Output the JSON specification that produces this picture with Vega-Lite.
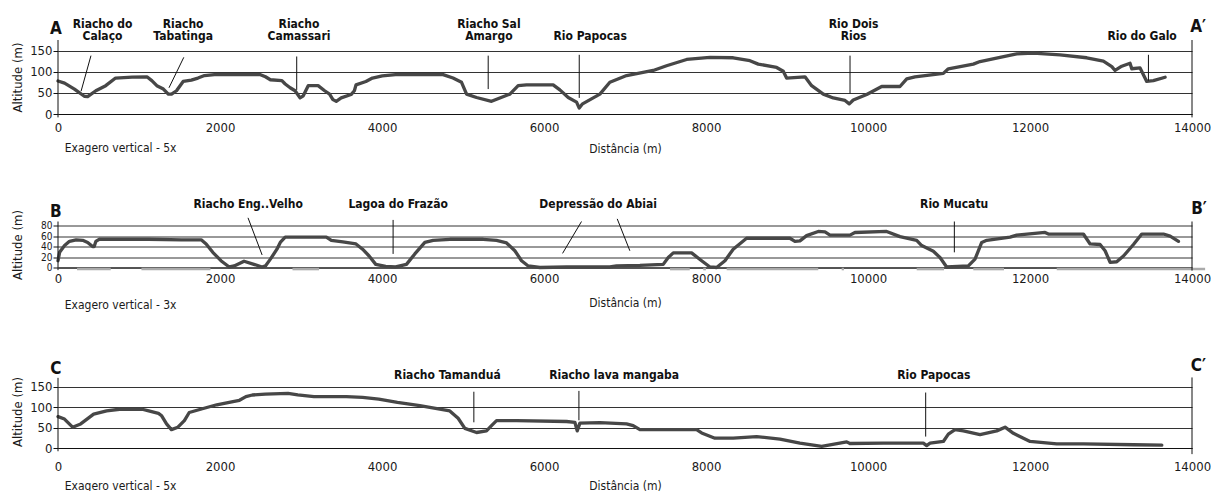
{
  "$schema": "https://vega.github.io/schema/vega-lite/v6.json",
  "padding": {"left": 11, "top": 17, "right": 5, "bottom": 0},
  "background": "white",
  "bounds": "flush",
  "spacing": 107.5,
  "config": {
    "font": "Liberation Sans Narrow, DejaVu Sans Condensed, Arial Narrow, sans-serif",
    "view": {"stroke": null},
    "axis": {
      "labelFontSize": 13, "labelColor": "#1a1a1a", "titleFontSize": 13, "titleFontWeight": "normal",
      "titleColor": "#1a1a1a", "gridColor": "#333333", "gridOpacity": 1, "gridWidth": 1,
      "domainColor": "#111111", "tickColor": "#111111", "labelOverlap": false
    },
    "axisX": {"format": "d", "labelFlush": false, "ticks": false, "grid": false, "domain": true, "titleFontSize": 12},
    "axisY": {"format": "d", "grid": true, "domain": false, "tickSize": 5, "labelPadding": 1, "titleX": -34},
    "text": {"color": "#111111"}
  },
  "datasets": {
    "a": [
      {"d":0,"alt":78},{"d":81,"alt":73},{"d":203,"alt":59},{"d":325,"alt":42},{"d":366,"alt":41},{"d":467,"alt":55},{"d":589,"alt":67},{"d":711,"alt":85},{"d":915,"alt":87},{"d":1098,"alt":88},{"d":1158,"alt":79},{"d":1220,"alt":67},{"d":1301,"alt":59},{"d":1362,"alt":47},{"d":1402,"alt":47},{"d":1463,"alt":55},{"d":1545,"alt":77},{"d":1646,"alt":80},{"d":1728,"alt":85},{"d":1809,"alt":91},{"d":1931,"alt":93},{"d":2134,"alt":93},{"d":2337,"alt":93},{"d":2500,"alt":93},{"d":2561,"alt":88},{"d":2622,"alt":81},{"d":2764,"alt":79},{"d":2805,"alt":71},{"d":2866,"alt":62},{"d":2927,"alt":55},{"d":2988,"alt":38},{"d":3028,"alt":43},{"d":3089,"alt":67},{"d":3211,"alt":67},{"d":3292,"alt":55},{"d":3353,"alt":47},{"d":3394,"alt":34},{"d":3435,"alt":30},{"d":3496,"alt":38},{"d":3618,"alt":46},{"d":3659,"alt":55},{"d":3679,"alt":69},{"d":3801,"alt":77},{"d":3882,"alt":85},{"d":4004,"alt":90},{"d":4167,"alt":93},{"d":4754,"alt":93},{"d":4877,"alt":85},{"d":4982,"alt":75},{"d":5044,"alt":47},{"d":5167,"alt":39},{"d":5352,"alt":30},{"d":5455,"alt":38},{"d":5579,"alt":47},{"d":5681,"alt":67},{"d":5785,"alt":69},{"d":6113,"alt":69},{"d":6196,"alt":57},{"d":6299,"alt":39},{"d":6402,"alt":28},{"d":6435,"alt":14},{"d":6476,"alt":24},{"d":6690,"alt":47},{"d":6813,"alt":75},{"d":7020,"alt":91},{"d":7348,"alt":103},{"d":7513,"alt":114},{"d":7761,"alt":129},{"d":8049,"alt":134},{"d":8336,"alt":133},{"d":8542,"alt":126},{"d":8645,"alt":118},{"d":8872,"alt":110},{"d":8954,"alt":101},{"d":8995,"alt":85},{"d":9222,"alt":88},{"d":9304,"alt":67},{"d":9448,"alt":47},{"d":9571,"alt":38},{"d":9716,"alt":32},{"d":9769,"alt":24},{"d":9818,"alt":33},{"d":9984,"alt":46},{"d":10169,"alt":65},{"d":10395,"alt":65},{"d":10478,"alt":83},{"d":10580,"alt":88},{"d":10930,"alt":96},{"d":10992,"alt":107},{"d":11300,"alt":118},{"d":11383,"alt":124},{"d":11630,"alt":134},{"d":11836,"alt":142},{"d":12041,"alt":144},{"d":12371,"alt":140},{"d":12700,"alt":133},{"d":12906,"alt":125},{"d":13010,"alt":112},{"d":13050,"alt":103},{"d":13133,"alt":113},{"d":13235,"alt":120},{"d":13256,"alt":107},{"d":13359,"alt":109},{"d":13441,"alt":77},{"d":13523,"alt":79},{"d":13668,"alt":87}
    ],
    "aLab": [
      {"d":549,"l1":"Riacho do","l2":"Calaço"},{"d":1545,"l1":"Riacho","l2":"Tabatinga"},{"d":2975,"l1":"Riacho","l2":"Camassari"},{"d":5320,"l1":"Riacho Sal","l2":"Amargo"},{"d":6570,"l1":"","l2":"Rio Papocas"},{"d":9822,"l1":"Rio Dois","l2":"Rios"},{"d":13384,"l1":"","l2":"Rio do Galo"}
    ],
    "aPtr": [
      {"x1":407,"y1":138,"x2":285,"y2":54},{"x1":1553,"y1":134,"x2":1370,"y2":62},{"x1":2947,"y1":136,"x2":2947,"y2":57},{"x1":5311,"y1":138,"x2":5311,"y2":59},{"x1":6435,"y1":140,"x2":6435,"y2":38},{"x1":9778,"y1":138,"x2":9778,"y2":49},{"x1":13462,"y1":140,"x2":13462,"y2":79}
    ],
    "b": [
      {"d":0,"alt":13},{"d":20,"alt":29},{"d":81,"alt":42},{"d":142,"alt":50},{"d":224,"alt":53},{"d":305,"alt":52},{"d":366,"alt":48},{"d":427,"alt":40},{"d":447,"alt":40},{"d":467,"alt":50},{"d":508,"alt":54},{"d":711,"alt":54},{"d":1118,"alt":54},{"d":1524,"alt":53},{"d":1768,"alt":53},{"d":1829,"alt":45},{"d":1911,"alt":29},{"d":2012,"alt":13},{"d":2114,"alt":1},{"d":2175,"alt":3},{"d":2297,"alt":12},{"d":2419,"alt":6},{"d":2520,"alt":1},{"d":2561,"alt":3},{"d":2622,"alt":16},{"d":2703,"alt":35},{"d":2744,"alt":48},{"d":2805,"alt":58},{"d":2947,"alt":58},{"d":3313,"alt":58},{"d":3374,"alt":52},{"d":3516,"alt":49},{"d":3679,"alt":45},{"d":3760,"alt":35},{"d":3841,"alt":22},{"d":3923,"alt":6},{"d":4045,"alt":2},{"d":4167,"alt":1},{"d":4302,"alt":6},{"d":4405,"alt":26},{"d":4529,"alt":48},{"d":4632,"alt":52},{"d":4838,"alt":54},{"d":5250,"alt":54},{"d":5414,"alt":52},{"d":5538,"alt":47},{"d":5640,"alt":32},{"d":5723,"alt":13},{"d":5805,"alt":3},{"d":5949,"alt":0},{"d":6278,"alt":1},{"d":6525,"alt":1},{"d":6813,"alt":1},{"d":6896,"alt":3},{"d":7184,"alt":4},{"d":7472,"alt":6},{"d":7534,"alt":19},{"d":7596,"alt":28},{"d":7822,"alt":28},{"d":7946,"alt":13},{"d":8049,"alt":1},{"d":8131,"alt":0},{"d":8234,"alt":13},{"d":8336,"alt":35},{"d":8501,"alt":56},{"d":8748,"alt":56},{"d":9036,"alt":56},{"d":9098,"alt":50},{"d":9160,"alt":51},{"d":9242,"alt":61},{"d":9386,"alt":69},{"d":9469,"alt":68},{"d":9531,"alt":62},{"d":9777,"alt":62},{"d":9839,"alt":67},{"d":10230,"alt":69},{"d":10395,"alt":59},{"d":10601,"alt":52},{"d":10663,"alt":42},{"d":10807,"alt":31},{"d":10889,"alt":19},{"d":10971,"alt":1},{"d":11239,"alt":3},{"d":11321,"alt":16},{"d":11404,"alt":48},{"d":11466,"alt":52},{"d":11754,"alt":58},{"d":11836,"alt":62},{"d":12186,"alt":67},{"d":12227,"alt":64},{"d":12659,"alt":64},{"d":12742,"alt":45},{"d":12865,"alt":44},{"d":12927,"alt":32},{"d":12989,"alt":10},{"d":13071,"alt":11},{"d":13154,"alt":22},{"d":13277,"alt":44},{"d":13380,"alt":64},{"d":13648,"alt":64},{"d":13730,"alt":60},{"d":13833,"alt":50}
    ],
    "bLab": [
      {"d":2348,"label":"Riacho Eng..Velho"},{"d":4199,"label":"Lagoa do Frazão"},{"d":6669,"label":"Depressão do Abiai"},{"d":11064,"label":"Rio Mucatu"}
    ],
    "bPtr": [
      {"x1":2346,"y1":95,"x2":2520,"y2":24},{"x1":4137,"y1":91,"x2":4137,"y2":26},{"x1":6463,"y1":88,"x2":6229,"y2":27},{"x1":6904,"y1":93,"x2":7060,"y2":32},{"x1":11066,"y1":88,"x2":11066,"y2":29}
    ],
    "bGray": [
      {"s":235,"e":651},{"s":1030,"e":1882},{"s":2895,"e":3223},{"s":7555,"e":7800},{"s":7966,"e":7999},{"s":8255,"e":9386},{"s":9675,"e":9703},{"s":10601,"e":10939},{"s":11300,"e":11679},{"s":12330,"e":14162}
    ],
    "c": [
      {"d":0,"alt":77},{"d":80,"alt":71},{"d":180,"alt":51},{"d":280,"alt":59},{"d":440,"alt":83},{"d":600,"alt":91},{"d":760,"alt":95},{"d":1040,"alt":95},{"d":1120,"alt":91},{"d":1240,"alt":85},{"d":1280,"alt":79},{"d":1340,"alt":59},{"d":1400,"alt":45},{"d":1480,"alt":51},{"d":1560,"alt":67},{"d":1620,"alt":87},{"d":1760,"alt":95},{"d":1960,"alt":106},{"d":2160,"alt":114},{"d":2240,"alt":117},{"d":2320,"alt":126},{"d":2400,"alt":130},{"d":2560,"alt":132},{"d":2840,"alt":134},{"d":2960,"alt":130},{"d":3160,"alt":126},{"d":3560,"alt":126},{"d":3760,"alt":124},{"d":3960,"alt":120},{"d":4190,"alt":112},{"d":4467,"alt":104},{"d":4837,"alt":91},{"d":4940,"alt":73},{"d":5023,"alt":48},{"d":5167,"alt":38},{"d":5290,"alt":42},{"d":5352,"alt":55},{"d":5414,"alt":67},{"d":5661,"alt":67},{"d":6279,"alt":65},{"d":6381,"alt":63},{"d":6410,"alt":42},{"d":6443,"alt":61},{"d":6690,"alt":62},{"d":7019,"alt":59},{"d":7101,"alt":55},{"d":7184,"alt":45},{"d":7514,"alt":45},{"d":7884,"alt":45},{"d":7946,"alt":37},{"d":8110,"alt":24},{"d":8336,"alt":24},{"d":8625,"alt":28},{"d":8913,"alt":22},{"d":9160,"alt":12},{"d":9428,"alt":4},{"d":9737,"alt":15},{"d":9777,"alt":11},{"d":10189,"alt":12},{"d":10683,"alt":12},{"d":10724,"alt":6},{"d":10766,"alt":12},{"d":10930,"alt":16},{"d":10992,"alt":34},{"d":11074,"alt":45},{"d":11177,"alt":42},{"d":11383,"alt":33},{"d":11589,"alt":42},{"d":11692,"alt":51},{"d":11795,"alt":36},{"d":12001,"alt":16},{"d":12330,"alt":10},{"d":12659,"alt":10},{"d":13277,"alt":8},{"d":13627,"alt":7}
    ],
    "cLab": [
      {"d":4807,"label":"Riacho Tamanduá"},{"d":6865,"label":"Riacho lava mangaba"},{"d":10813,"label":"Rio Papocas"}
    ],
    "cPtr": [
      {"x1":5134,"y1":138,"x2":5134,"y2":63},{"x1":6431,"y1":140,"x2":6431,"y2":68},{"x1":10712,"y1":136,"x2":10712,"y2":28}
    ],
    "one": [{}]
  },
  "vconcat": [
    {
      "width": 1134, "height": 74,
      "layer": [
        {
          "data": {"name": "a"},
          "mark": {"type": "line", "color": "#474747", "strokeWidth": 3.3, "strokeJoin": "round", "strokeCap": "round"},
          "encoding": {
            "x": {"field": "d", "type": "quantitative", "scale": {"domain": [0, 14000], "nice": false, "zero": false},
              "axis": {"values": [0,2000,4000,6000,8000,10000,12000,14000], "tickCount": 20, "labelPadding": 7.5, "title": "Distância (m)", "titlePadding": 9}},
            "y": {"field": "alt", "type": "quantitative", "scale": {"domain": [0, 175], "nice": false},
              "axis": {"values": [0,50,100,150], "tickCount": 20, "title": "Altitude (m)"}}
          }
        },
        {
          "data": {"name": "aPtr"},
          "mark": {"type": "rule", "color": "#111111", "strokeWidth": 1},
          "encoding": {
            "x": {"field": "x1", "type": "quantitative", "scale": {"domain": [0, 14000], "nice": false, "zero": false}},
            "y": {"field": "y1", "type": "quantitative", "scale": {"domain": [0, 175], "nice": false}},
            "x2": {"field": "x2"}, "y2": {"field": "y2"}
          }
        },
        {
          "data": {"name": "aLab"},
          "mark": {"type": "text", "fontWeight": "bold", "fontSize": 12, "baseline": "bottom", "align": "center"},
          "encoding": {
            "x": {"field": "d", "type": "quantitative", "scale": {"domain": [0, 14000], "nice": false, "zero": false}},
            "y": {"datum": 167, "type": "quantitative", "scale": {"domain": [0, 175], "nice": false}},
            "text": {"field": "l2"}
          }
        },
        {
          "data": {"name": "aLab"},
          "mark": {"type": "text", "fontWeight": "bold", "fontSize": 12, "baseline": "bottom", "align": "center", "dy": -12.5},
          "encoding": {
            "x": {"field": "d", "type": "quantitative", "scale": {"domain": [0, 14000], "nice": false, "zero": false}},
            "y": {"datum": 167, "type": "quantitative", "scale": {"domain": [0, 175], "nice": false}},
            "text": {"field": "l1"}
          }
        },
        {
          "data": {"name": "one"},
          "mark": {"type": "rule", "color": "#111111", "strokeWidth": 1},
          "encoding": {
            "x": {"datum": 0, "type": "quantitative", "scale": {"domain": [0, 14000], "nice": false, "zero": false}},
            "y": {"datum": -8, "type": "quantitative", "scale": {"domain": [0, 175], "nice": false}},
            "y2": {"datum": 175}
          }
        },
        {
          "data": {"name": "one"},
          "mark": {"type": "rule", "color": "#111111", "strokeWidth": 1},
          "encoding": {
            "x": {"datum": 14000, "type": "quantitative", "scale": {"domain": [0, 14000], "nice": false, "zero": false}},
            "y": {"datum": -8, "type": "quantitative", "scale": {"domain": [0, 175], "nice": false}},
            "y2": {"datum": 175}
          }
        },
        {
          "data": {"name": "one"},
          "mark": {"type": "text", "text": "A", "fontWeight": "bold", "fontSize": 17, "baseline": "alphabetic", "align": "center"},
          "encoding": {
            "x": {"datum": -27, "type": "quantitative", "scale": {"domain": [0, 14000], "nice": false, "zero": false}},
            "y": {"datum": 190, "type": "quantitative", "scale": {"domain": [0, 175], "nice": false}}
          }
        },
        {
          "data": {"name": "one"},
          "mark": {"type": "text", "text": "A′", "fontWeight": "bold", "fontSize": 17, "baseline": "alphabetic", "align": "center"},
          "encoding": {
            "x": {"datum": 14075, "type": "quantitative", "scale": {"domain": [0, 14000], "nice": false, "zero": false}},
            "y": {"datum": 193, "type": "quantitative", "scale": {"domain": [0, 175], "nice": false}}
          }
        },
        {
          "data": {"name": "one"},
          "mark": {"type": "text", "text": "Exagero vertical - 5x", "fontSize": 12, "baseline": "middle", "align": "left", "color": "#1a1a1a"},
          "encoding": {
            "x": {"datum": 83, "type": "quantitative", "scale": {"domain": [0, 14000], "nice": false, "zero": false}},
            "y": {"datum": -81, "type": "quantitative", "scale": {"domain": [0, 175], "nice": false}}
          }
        }
      ]
    },
    {
      "width": 1134, "height": 46,
      "layer": [
        {
          "data": {"name": "b"},
          "mark": {"type": "line", "color": "#474747", "strokeWidth": 3.3, "strokeJoin": "round", "strokeCap": "round"},
          "encoding": {
            "x": {"field": "d", "type": "quantitative", "scale": {"domain": [0, 14000], "nice": false, "zero": false},
              "axis": {"values": [0,2000,4000,6000,8000,10000,12000,14000], "tickCount": 20, "labelPadding": 5, "title": "Distância (m)", "titlePadding": 12}},
            "y": {"field": "alt", "type": "quantitative", "scale": {"domain": [0, 88], "nice": false},
              "axis": {"values": [0,20,40,60,80], "tickCount": 20, "labelFontSize": 10, "title": "Altitude (m)"}}
          }
        },
        {
          "data": {"name": "bGray"},
          "mark": {"type": "rule", "color": "#aaaaaa", "strokeWidth": 2.5},
          "encoding": {
            "x": {"field": "s", "type": "quantitative", "scale": {"domain": [0, 14000], "nice": false, "zero": false}},
            "x2": {"field": "e"},
            "y": {"datum": -3, "type": "quantitative", "scale": {"domain": [0, 88], "nice": false}}
          }
        },
        {
          "data": {"name": "bPtr"},
          "mark": {"type": "rule", "color": "#111111", "strokeWidth": 1},
          "encoding": {
            "x": {"field": "x1", "type": "quantitative", "scale": {"domain": [0, 14000], "nice": false, "zero": false}},
            "y": {"field": "y1", "type": "quantitative", "scale": {"domain": [0, 88], "nice": false}},
            "x2": {"field": "x2"}, "y2": {"field": "y2"}
          }
        },
        {
          "data": {"name": "bLab"},
          "mark": {"type": "text", "fontWeight": "bold", "fontSize": 12, "baseline": "bottom", "align": "center"},
          "encoding": {
            "x": {"field": "d", "type": "quantitative", "scale": {"domain": [0, 14000], "nice": false, "zero": false}},
            "y": {"datum": 109, "type": "quantitative", "scale": {"domain": [0, 88], "nice": false}},
            "text": {"field": "label"}
          }
        },
        {
          "data": {"name": "one"},
          "mark": {"type": "rule", "color": "#111111", "strokeWidth": 1},
          "encoding": {
            "x": {"datum": 0, "type": "quantitative", "scale": {"domain": [0, 14000], "nice": false, "zero": false}},
            "y": {"datum": -5, "type": "quantitative", "scale": {"domain": [0, 88], "nice": false}},
            "y2": {"datum": 88}
          }
        },
        {
          "data": {"name": "one"},
          "mark": {"type": "rule", "color": "#111111", "strokeWidth": 1},
          "encoding": {
            "x": {"datum": 14000, "type": "quantitative", "scale": {"domain": [0, 14000], "nice": false, "zero": false}},
            "y": {"datum": -6, "type": "quantitative", "scale": {"domain": [0, 88], "nice": false}},
            "y2": {"datum": 88}
          }
        },
        {
          "data": {"name": "one"},
          "mark": {"type": "text", "text": "B", "fontWeight": "bold", "fontSize": 17, "baseline": "alphabetic", "align": "center"},
          "encoding": {
            "x": {"datum": -27, "type": "quantitative", "scale": {"domain": [0, 14000], "nice": false, "zero": false}},
            "y": {"datum": 96, "type": "quantitative", "scale": {"domain": [0, 88], "nice": false}}
          }
        },
        {
          "data": {"name": "one"},
          "mark": {"type": "text", "text": "B′", "fontWeight": "bold", "fontSize": 17, "baseline": "alphabetic", "align": "center"},
          "encoding": {
            "x": {"datum": 14087, "type": "quantitative", "scale": {"domain": [0, 14000], "nice": false, "zero": false}},
            "y": {"datum": 102, "type": "quantitative", "scale": {"domain": [0, 88], "nice": false}}
          }
        },
        {
          "data": {"name": "one"},
          "mark": {"type": "text", "text": "Exagero vertical - 3x", "fontSize": 12, "baseline": "middle", "align": "left", "color": "#1a1a1a"},
          "encoding": {
            "x": {"datum": 83, "type": "quantitative", "scale": {"domain": [0, 14000], "nice": false, "zero": false}},
            "y": {"datum": -71, "type": "quantitative", "scale": {"domain": [0, 88], "nice": false}}
          }
        }
      ]
    },
    {
      "width": 1134, "height": 73,
      "layer": [
        {
          "data": {"name": "c"},
          "mark": {"type": "line", "color": "#474747", "strokeWidth": 3.3, "strokeJoin": "round", "strokeCap": "round"},
          "encoding": {
            "x": {"field": "d", "type": "quantitative", "scale": {"domain": [0, 14000], "nice": false, "zero": false},
              "axis": {"values": [0,2000,4000,6000,8000,10000,12000,14000], "tickCount": 20, "labelPadding": 12.5, "title": "Distância (m)", "titlePadding": 7}},
            "y": {"field": "alt", "type": "quantitative", "scale": {"domain": [0, 179], "nice": false},
              "axis": {"values": [0,50,100,150], "tickCount": 20, "title": "Altitude (m)"}}
          }
        },
        {
          "data": {"name": "cPtr"},
          "mark": {"type": "rule", "color": "#111111", "strokeWidth": 1},
          "encoding": {
            "x": {"field": "x1", "type": "quantitative", "scale": {"domain": [0, 14000], "nice": false, "zero": false}},
            "y": {"field": "y1", "type": "quantitative", "scale": {"domain": [0, 179], "nice": false}},
            "x2": {"field": "x2"}, "y2": {"field": "y2"}
          }
        },
        {
          "data": {"name": "cLab"},
          "mark": {"type": "text", "fontWeight": "bold", "fontSize": 12, "baseline": "bottom", "align": "center"},
          "encoding": {
            "x": {"field": "d", "type": "quantitative", "scale": {"domain": [0, 14000], "nice": false, "zero": false}},
            "y": {"datum": 162, "type": "quantitative", "scale": {"domain": [0, 179], "nice": false}},
            "text": {"field": "label"}
          }
        },
        {
          "data": {"name": "one"},
          "mark": {"type": "rule", "color": "#111111", "strokeWidth": 1},
          "encoding": {
            "x": {"datum": 0, "type": "quantitative", "scale": {"domain": [0, 14000], "nice": false, "zero": false}},
            "y": {"datum": -8, "type": "quantitative", "scale": {"domain": [0, 179], "nice": false}},
            "y2": {"datum": 172}
          }
        },
        {
          "data": {"name": "one"},
          "mark": {"type": "rule", "color": "#111111", "strokeWidth": 1},
          "encoding": {
            "x": {"datum": 14000, "type": "quantitative", "scale": {"domain": [0, 14000], "nice": false, "zero": false}},
            "y": {"datum": -15, "type": "quantitative", "scale": {"domain": [0, 179], "nice": false}},
            "y2": {"datum": 173}
          }
        },
        {
          "data": {"name": "one"},
          "mark": {"type": "text", "text": "C", "fontWeight": "bold", "fontSize": 17, "baseline": "alphabetic", "align": "center"},
          "encoding": {
            "x": {"datum": -27, "type": "quantitative", "scale": {"domain": [0, 14000], "nice": false, "zero": false}},
            "y": {"datum": 182, "type": "quantitative", "scale": {"domain": [0, 179], "nice": false}}
          }
        },
        {
          "data": {"name": "one"},
          "mark": {"type": "text", "text": "C′", "fontWeight": "bold", "fontSize": 17, "baseline": "alphabetic", "align": "center"},
          "encoding": {
            "x": {"datum": 14080, "type": "quantitative", "scale": {"domain": [0, 14000], "nice": false, "zero": false}},
            "y": {"datum": 189, "type": "quantitative", "scale": {"domain": [0, 179], "nice": false}}
          }
        },
        {
          "data": {"name": "one"},
          "mark": {"type": "text", "text": "Exagero vertical - 5x", "fontSize": 12, "baseline": "middle", "align": "left", "color": "#1a1a1a"},
          "encoding": {
            "x": {"datum": 83, "type": "quantitative", "scale": {"domain": [0, 14000], "nice": false, "zero": false}},
            "y": {"datum": -92, "type": "quantitative", "scale": {"domain": [0, 179], "nice": false}}
          }
        }
      ]
    }
  ]
}
